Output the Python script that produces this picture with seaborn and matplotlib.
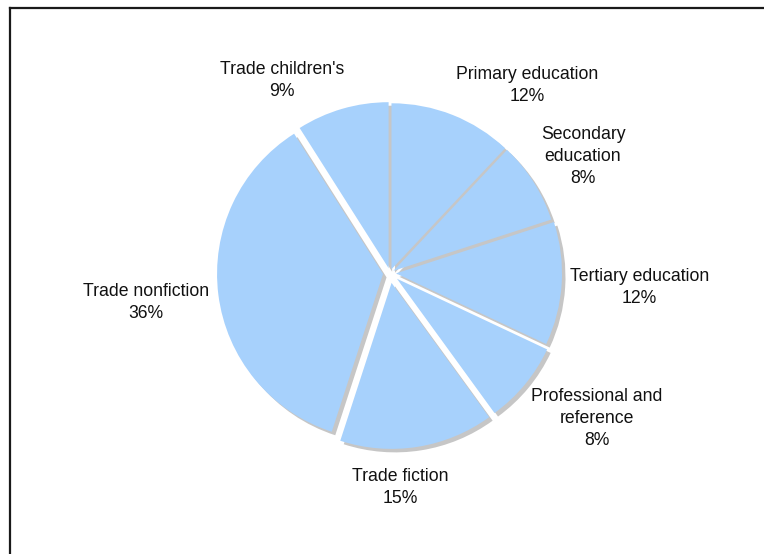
import matplotlib
matplotlib.use("Agg")
import matplotlib.pyplot as plt
import seaborn as sns
from matplotlib.lines import Line2D

# Book publishing revenue by segment (share of total, %)
segments = ["Primary education", "Secondary\neducation", "Tertiary education",
            "Professional and\nreference", "Trade fiction", "Trade nonfiction",
            "Trade children's"]
shares = [12, 8, 12, 8, 15, 36, 9]

# Layout (pixels): how far each slice is pulled out, and the baseline of
# the last line of each label
pull_px = [4, 4, 6, 9, 10, 7, 5]
label_anchor_px = [(527.5, 101), (583, 183), (639.5, 303), (596.5, 445),
                   (400, 503), (146, 318), (282, 96)]

W, H = 764, 554
CX, CY, R = 390, 273, 166
SHADOW_DX, SHADOW_DY = 3.5, 3.5

sns.set_theme(style="white")
plt.rcParams["font.family"] = ["Liberation Sans", "DejaVu Sans"]

fill = "#a7d1fc"
shade = "#c6c6c6"

fig = plt.figure(figsize=(W / 100, H / 100), dpi=100)
ax = fig.add_axes([0, 0, 1, 1])

# pie offsets are in data units, which here are pixels
common = dict(explode=pull_px, radius=R, startangle=90, counterclock=False,
              wedgeprops=dict(linewidth=0), frame=True)

# drop shadow underneath, then the slices themselves
ax.pie(shares, center=(CX + SHADOW_DX, H - CY - SHADOW_DY),
       colors=[shade] * len(shares), **common)
ax.pie(shares, center=(CX, H - CY), colors=[fill] * len(shares), **common)
ax.set_xlim(0, W)
ax.set_ylim(0, H)
ax.set_aspect("equal")
ax.axis("off")

for name, share, (lx, ly) in zip(segments, shares, label_anchor_px):
    ax.text(lx, H - ly, f"{name}\n{share}%", ha="center", va="baseline",
            multialignment="center", fontsize=12.7, color="#111111",
            linespacing=1.4)

# frame around the chart area
ax.add_line(Line2D([10, 10], [0, H - 8], color="#1a1a1a", lw=1.6,
                   solid_capstyle="projecting"))
ax.add_line(Line2D([10, W], [H - 8, H - 8], color="#1a1a1a", lw=1.6,
                   solid_capstyle="projecting"))

fig.savefig("out.png", dpi=100, facecolor="white")
